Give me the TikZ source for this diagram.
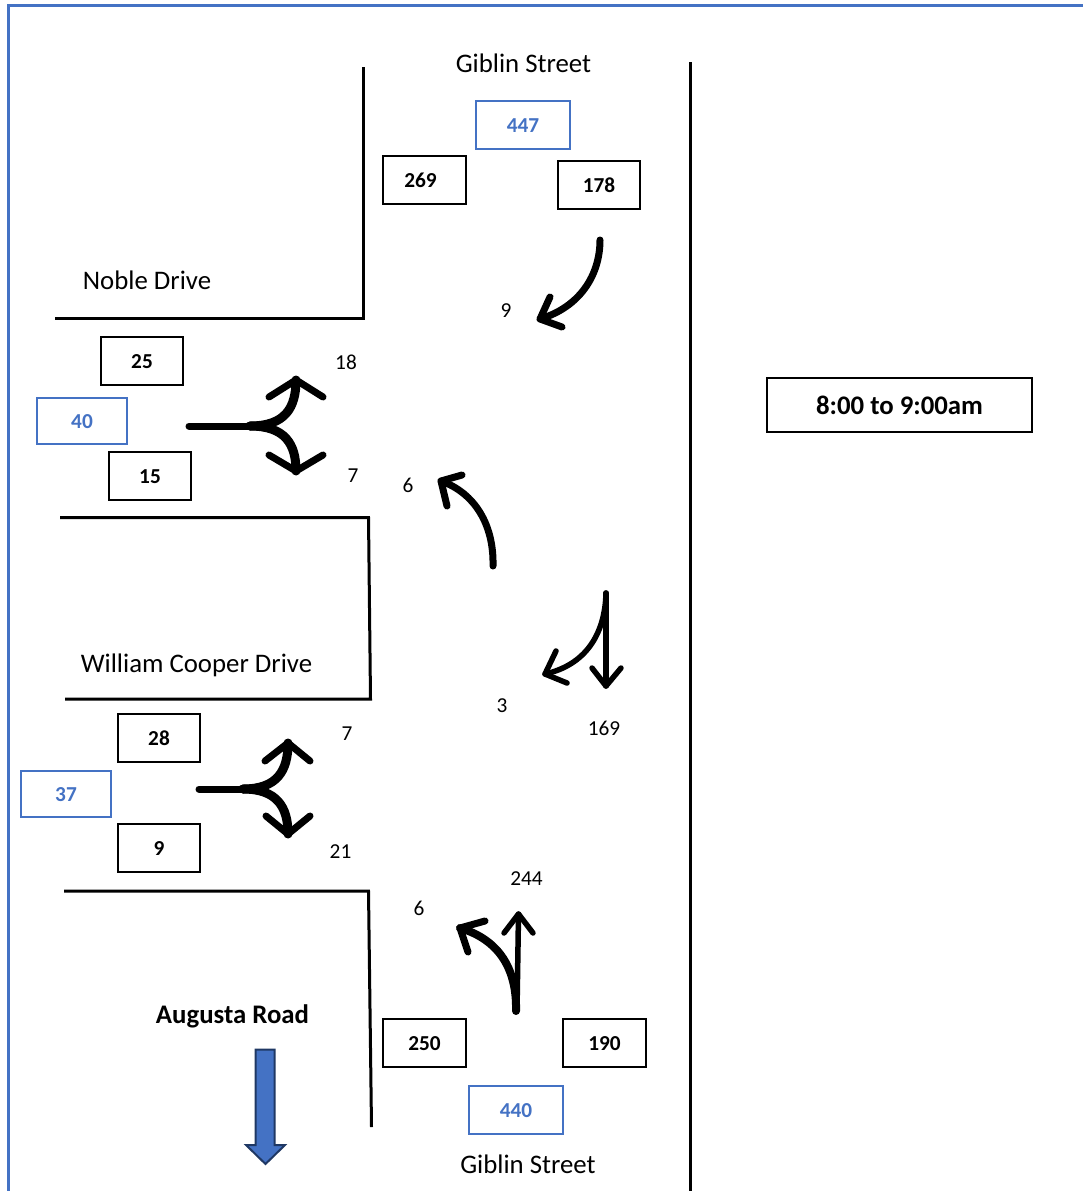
\documentclass[tikz,border=0pt]{standalone}
\usepackage{fontspec}
\setmainfont{Carlito}
\definecolor{frameblue}{HTML}{4472C4}
\definecolor{darkblue}{HTML}{1F3864}
\tikzset{
  road/.style={draw=black,line width=3pt,line join=miter},
  frameline/.style={draw=frameblue,line width=3pt},
  flow/.style={draw=black,line width=7pt,line cap=round,line join=round},
  forkcurve/.style={draw=black,line width=9pt,line cap=round,line join=round},
  thinflow/.style={draw=black,line width=5.5pt,line cap=round,line join=round},
  countbox/.style={draw=black,line width=2pt,fill=white,inner sep=0pt,font=\fontsize{21.3}{25}\selectfont\bfseries,minimum width=82pt,minimum height=48pt,text height=15.5pt,text depth=0pt},
  totalbox/.style={draw=frameblue,line width=2pt,fill=white,inner sep=0pt,text=frameblue,font=\fontsize{21.3}{25}\selectfont\bfseries,minimum width=90pt,minimum height=46pt,text height=15.5pt,text depth=0pt},
  timebox/.style={draw=black,line width=2pt,inner sep=0pt,font=\fontsize{26.8}{32}\selectfont\bfseries,minimum width=265pt,minimum height=54pt,text height=19.5pt,text depth=0pt},
  streetlabel/.style={inner sep=0pt,font=\fontsize{26.8}{32}\selectfont},
  countlabel/.style={inner sep=0pt,font=\fontsize{21.3}{25}\selectfont}
}
\begin{document}
\begin{tikzpicture}[x=1pt,y=-1pt]
\useasboundingbox (0,0) rectangle (1083,1191);
% outer frame
\coordinate (frameA) at (8,1191);
\coordinate (frameB) at (8,5);
\coordinate (frameC) at (1083,5);
\draw[frameline] (frameA) -- (frameB) -- (frameC);
% roads
\draw[road] (363.5,67) -- (363.5,318.5) -- (55,318.5);
\draw[road] (60,517.5) -- (368.5,517.5) -- (370.5,699) -- (65,699);
\draw[road] (64,891) -- (368.5,891) -- (371.5,1127);
\draw[road] (690,62) -- (690,1191);
% street labels
\node[streetlabel] (giblinN) at (523.5,63.5) {Giblin Street};
\node[streetlabel] (noble) at (147,280.5) {Noble Drive};
\node[streetlabel] (cooper) at (196.5,665.5) {William Cooper Drive};
\node[streetlabel,font=\fontsize{26.8}{32}\selectfont\bfseries] (augusta) at (232.5,1016.5) {Augusta Road};
\node[streetlabel] (giblinS) at (528,1164.5) {Giblin Street};
% boxes
\node[totalbox,minimum width=94pt,minimum height=48pt] (t447) at (523,125) {447};
\node[countbox,minimum width=83pt] (c269) at (424.5,180) {269\hspace*{8pt}};
\node[countbox] (c178) at (599,185) {178};
\node[countbox] (c25) at (142,361) {25};
\node[totalbox] (t40) at (82,421) {40};
\node[countbox] (c15) at (150,476) {15};
\node[countbox] (c28) at (159,738) {28};
\node[totalbox] (t37) at (66,794) {37};
\node[countbox] (c9) at (159,847.5) {9};
\node[countbox,minimum width=83pt] (c250) at (424.5,1043) {250};
\node[countbox,minimum width=83pt] (c190) at (604.5,1043) {190};
\node[totalbox,minimum width=94pt,minimum height=48pt] (t440) at (516,1110) {440};
\node[timebox] (timeb) at (899.5,405) {8:00 to 9:00am};
% count labels
\node[countlabel] (n18) at (346,362.5) {18};
\node[countlabel] (n7a) at (353,476) {7};
\node[countlabel] (n6a) at (408,485) {6};
\node[countlabel] (n9) at (506,311) {9};
\node[countlabel] (n3) at (502,706) {3};
\node[countlabel] (n169) at (604,728.5) {169};
\node[countlabel] (n7b) at (347,734) {7};
\node[countlabel] (n21) at (340.5,852) {21};
\node[countlabel] (n244) at (526.5,879) {244};
\node[countlabel] (n6b) at (419,908.5) {6};
% Giblin south-bound left turn
\coordinate (a1s) at (600,240);
\coordinate (a1t) at (540,319);
\draw[flow] (a1s) .. controls (600,275) and (580,307) .. (a1t);
\draw[flow] (550,297) -- (a1t) -- (562,327);
% Noble Drive fork
\coordinate (a2s) at (189,426);
\coordinate (a2j) at (250,426);
\coordinate (a2u) at (296,380);
\coordinate (a2d) at (296,471);
\draw[flow] (a2s) -- (a2j);
\draw[forkcurve] (a2j) .. controls (285,426) and (296,408) .. (a2u);
\draw[forkcurve] (a2j) .. controls (285,426) and (296,444) .. (a2d);
\draw[flow] (269,397) -- (a2u) -- (323,397);
\draw[flow] (269,455) -- (a2d) -- (323,455);
% north-bound left turn to Noble
\coordinate (a3s) at (493,566);
\coordinate (a3t) at (441,481);
\draw[flow] (a3s) .. controls (494,525) and (475,493) .. (a3t);
\draw[flow] (462,475) -- (a3t) -- (447,506);
% south-bound fork at William Cooper
\coordinate (a4s) at (606,593);
\coordinate (a4d) at (606,686);
\coordinate (a4l) at (545,674);
\draw[thinflow] (a4s) -- (a4d);
\draw[thinflow] (592,668) -- (a4d) -- (621,668);
\draw[thinflow] (a4s) .. controls (605,635) and (585,665) .. (a4l);
\draw[thinflow] (556,651) -- (a4l) -- (567,683);
% William Cooper fork
\coordinate (a5s) at (199,789);
\coordinate (a5j) at (243,789);
\coordinate (a5u) at (288,743);
\coordinate (a5d) at (288,834);
\draw[flow] (a5s) -- (a5j);
\draw[forkcurve] (a5j) .. controls (277,789) and (288,771) .. (a5u);
\draw[forkcurve] (a5j) .. controls (277,789) and (288,807) .. (a5d);
\draw[flow] (265,761) -- (a5u) -- (310,761);
\draw[flow] (266,816) -- (a5d) -- (310,816);
% north-bound fork
\coordinate (a6s) at (516,1011);
\coordinate (a6u) at (518.5,914);
\coordinate (a6l) at (460,928);
\draw[thinflow] (517,1011) -- (a6u);
\draw[thinflow] (504,933) -- (a6u) -- (533,933);
\draw[forkcurve,line width=8pt] (a6s) .. controls (517,970) and (500,940) .. (a6l);
\draw[flow] (485,921) -- (a6l) -- (468,952);
% Augusta Road block arrow
\draw[draw=darkblue,fill=frameblue,line width=2pt,line join=miter]
  (255.5,1049.5) -- (274.5,1049.5) -- (274.5,1145) -- (285,1145) -- (265.5,1164) -- (246,1145) -- (255.5,1145) -- cycle;
\end{tikzpicture}
\end{document}
